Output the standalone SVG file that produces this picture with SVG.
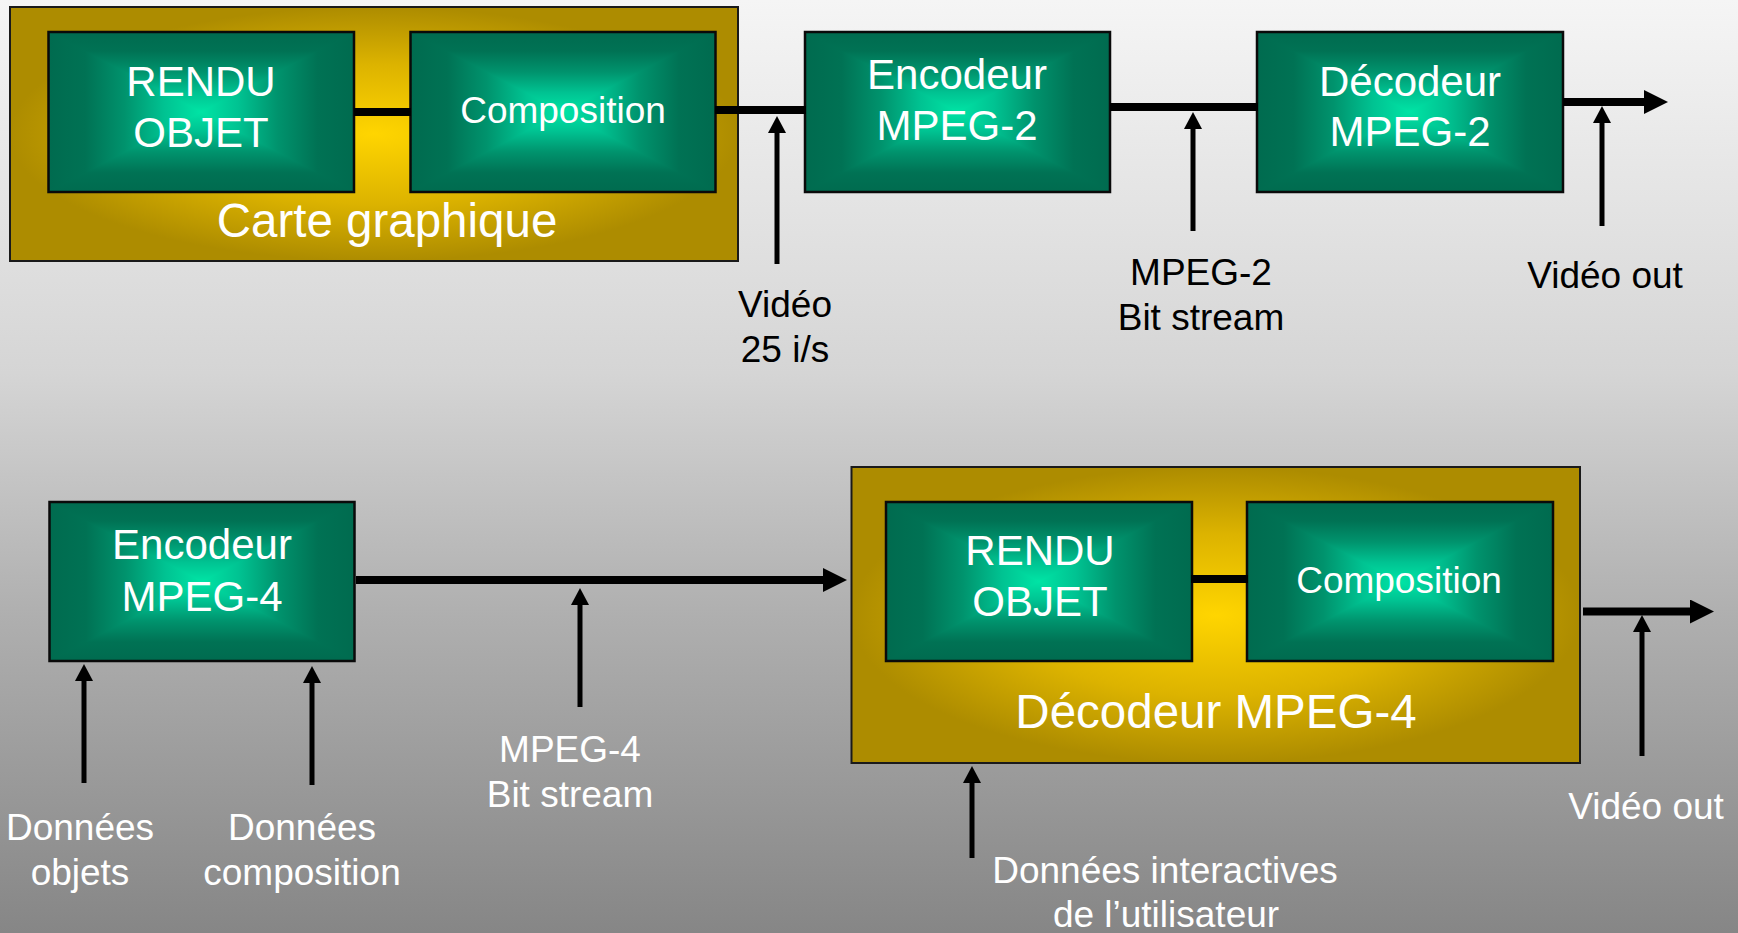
<svg xmlns="http://www.w3.org/2000/svg" xmlns:xlink="http://www.w3.org/1999/xlink" width="1738" height="933" viewBox="0 0 1738 933">
  <defs>
    <!-- page background -->
    <linearGradient id="bg" x1="0" y1="0" x2="0" y2="1">
      <stop offset="0" stop-color="#f5f5f5"/>
      <stop offset="0.4" stop-color="#d5d5d5"/>
      <stop offset="0.66" stop-color="#afafaf"/>
      <stop offset="1" stop-color="#868686"/>
    </linearGradient>
    <!-- green block: rectangular "from centre" shading built from edge-to-centre ramps -->
    <linearGradient id="gRampH" x1="0" y1="0" x2="1" y2="0">
      <stop offset="0" stop-color="#006b4f"/>
      <stop offset="0.12" stop-color="#007254"/>
      <stop offset="0.25" stop-color="#00936d"/>
      <stop offset="0.38" stop-color="#00c392"/>
      <stop offset="0.5" stop-color="#00e4a5"/>
      <stop offset="0.62" stop-color="#00c392"/>
      <stop offset="0.75" stop-color="#00936d"/>
      <stop offset="0.88" stop-color="#007254"/>
      <stop offset="1" stop-color="#006b4f"/>
    </linearGradient>
    <linearGradient id="gRampV" x1="0" y1="0" x2="0" y2="1">
      <stop offset="0" stop-color="#006b4f"/>
      <stop offset="0.12" stop-color="#007254"/>
      <stop offset="0.25" stop-color="#00936d"/>
      <stop offset="0.38" stop-color="#00c392"/>
      <stop offset="0.5" stop-color="#00e4a5"/>
      <stop offset="0.62" stop-color="#00c392"/>
      <stop offset="0.75" stop-color="#00936d"/>
      <stop offset="0.88" stop-color="#007254"/>
      <stop offset="1" stop-color="#006b4f"/>
    </linearGradient>
    <clipPath id="tbClip" clipPathUnits="objectBoundingBox">
      <polygon points="0,0 1,0 0.5,0.5 1,1 0,1 0.5,0.5"/>
    </clipPath>
    <symbol id="greenTile" viewBox="0 0 100 100" preserveAspectRatio="none">
      <rect x="0" y="0" width="100" height="100" fill="url(#gRampH)"/>
      <rect x="0" y="0" width="100" height="100" fill="url(#gRampV)" clip-path="url(#tbClip)"/>
    </symbol>
    <!-- gold frame shading -->
    <radialGradient id="gold" cx="0.5" cy="0.5" r="0.5">
      <stop offset="0" stop-color="#ffd500"/>
      <stop offset="0.55" stop-color="#dcb300"/>
      <stop offset="1" stop-color="#ad8c00"/>
    </radialGradient>
    <marker id="bigHead" markerUnits="userSpaceOnUse" viewBox="0 0 24 24" markerWidth="24" markerHeight="24" refX="0" refY="12" orient="auto">
      <path d="M0,0 L24,12 L0,24 Z" fill="#000"/>
    </marker>
    <marker id="smallHead" markerUnits="userSpaceOnUse" viewBox="0 0 17 18" markerWidth="17" markerHeight="18" refX="0" refY="9" orient="auto">
      <path d="M0,0 L17,9 L0,18 Z" fill="#000"/>
    </marker>
  </defs>
  <style>
    .frame { fill: url(#gold); stroke: #1a1a1a; stroke-width: 2; }
    .edge { fill: none; stroke: #0a0a0a; stroke-width: 2.5; }
    .t { font-family: "Liberation Sans", Arial, sans-serif; text-anchor: middle; }
    .in { fill: #ffffff; font-size: 42px; }
    .comp { fill: #ffffff; font-size: 37px; }
    .big { fill: #ffffff; font-size: 47.5px; }
    .lblK { fill: #000000; font-size: 37px; }
    .lblW { fill: #ffffff; font-size: 37px; }
    .bus { stroke: #000; stroke-width: 8; fill: none; }
    .busA { stroke: #000; stroke-width: 8; fill: none; marker-end: url(#bigHead); }
    .feed { stroke: #000; stroke-width: 5; fill: none; marker-end: url(#smallHead); }
  </style>

  <rect x="0" y="0" width="1738" height="933" fill="url(#bg)"/>

  <!-- MPEG-2 chain -->
  <g id="carte-graphique">
    <rect class="frame" x="10" y="7" width="728" height="254"/>
    <text class="t big" x="387" y="237">Carte graphique</text>
  </g>
  <g id="rendu-objet-1">
    <use xlink:href="#greenTile" x="48.5" y="32" width="305.5" height="160"/>
    <rect class="edge" x="48.5" y="32" width="305.5" height="160"/>
    <text class="t in" x="201" y="96">RENDU</text>
    <text class="t in" x="201" y="147">OBJET</text>
  </g>
  <g id="composition-1">
    <use xlink:href="#greenTile" x="410.5" y="32" width="305" height="160"/>
    <rect class="edge" x="410.5" y="32" width="305" height="160"/>
    <text class="t comp" x="563" y="123">Composition</text>
  </g>
  <g id="encodeur-mpeg2">
    <use xlink:href="#greenTile" x="805" y="32" width="305" height="160"/>
    <rect class="edge" x="805" y="32" width="305" height="160"/>
    <text class="t in" x="957" y="89">Encodeur</text>
    <text class="t in" x="957" y="140">MPEG-2</text>
  </g>
  <g id="decodeur-mpeg2">
    <use xlink:href="#greenTile" x="1257" y="32" width="306" height="160"/>
    <rect class="edge" x="1257" y="32" width="306" height="160"/>
    <text class="t in" x="1410" y="96">Décodeur</text>
    <text class="t in" x="1410" y="146">MPEG-2</text>
  </g>

  <!-- MPEG-4 chain -->
  <g id="encodeur-mpeg4">
    <use xlink:href="#greenTile" x="49.5" y="502" width="305" height="159"/>
    <rect class="edge" x="49.5" y="502" width="305" height="159"/>
    <text class="t in" x="202" y="559">Encodeur</text>
    <text class="t in" x="202" y="611">MPEG-4</text>
  </g>
  <g id="decodeur-mpeg4">
    <rect class="frame" x="851.5" y="467" width="728.5" height="296"/>
    <text class="t big" x="1216" y="728">Décodeur MPEG-4</text>
  </g>
  <g id="rendu-objet-2">
    <use xlink:href="#greenTile" x="886" y="502" width="306" height="159"/>
    <rect class="edge" x="886" y="502" width="306" height="159"/>
    <text class="t in" x="1040" y="565">RENDU</text>
    <text class="t in" x="1040" y="616">OBJET</text>
  </g>
  <g id="composition-2">
    <use xlink:href="#greenTile" x="1247" y="502" width="306" height="159"/>
    <rect class="edge" x="1247" y="502" width="306" height="159"/>
    <text class="t comp" x="1399" y="593">Composition</text>
  </g>

  <!-- connectors -->
  <g id="connectors">
    <line class="bus" x1="354" y1="112" x2="411" y2="112"/>
    <line class="bus" x1="715" y1="110" x2="806" y2="110"/>
    <line class="bus" x1="1110" y1="107" x2="1258" y2="107"/>
    <line class="busA" x1="1563" y1="102" x2="1644" y2="102"/>
    <line class="feed" x1="777" y1="264" x2="777" y2="133"/>
    <line class="feed" x1="1193" y1="231" x2="1193" y2="129"/>
    <line class="feed" x1="1602" y1="226" x2="1602" y2="123"/>

    <line class="busA" x1="356" y1="580" x2="823" y2="580"/>
    <line class="bus" x1="1191" y1="579" x2="1248" y2="579"/>
    <line class="busA" x1="1583" y1="611.5" x2="1690" y2="611.5"/>
    <line class="feed" x1="580" y1="707" x2="580" y2="605"/>
    <line class="feed" x1="84" y1="783" x2="84" y2="681"/>
    <line class="feed" x1="312" y1="785" x2="312" y2="683"/>
    <line class="feed" x1="1642" y1="756" x2="1642" y2="632"/>
    <line class="feed" x1="972" y1="858" x2="972" y2="783"/>
  </g>

  <!-- signal labels -->
  <g id="labels">
    <text class="t lblK" x="785" y="317">Vidéo</text>
    <text class="t lblK" x="785" y="362">25 i/s</text>
    <text class="t lblK" x="1201" y="285">MPEG-2</text>
    <text class="t lblK" x="1201" y="330">Bit stream</text>
    <text class="t lblK" x="1605" y="288">Vidéo out</text>

    <text class="t lblW" x="570" y="762">MPEG-4</text>
    <text class="t lblW" x="570" y="807">Bit stream</text>
    <text class="t lblW" x="80" y="840">Données</text>
    <text class="t lblW" x="80" y="885">objets</text>
    <text class="t lblW" x="302" y="840">Données</text>
    <text class="t lblW" x="302" y="885">composition</text>
    <text class="t lblW" x="1646" y="819">Vidéo out</text>
    <text class="t lblW" x="1165" y="883">Données interactives</text>
    <text class="t lblW" x="1166" y="927">de l’utilisateur</text>
  </g>
</svg>
